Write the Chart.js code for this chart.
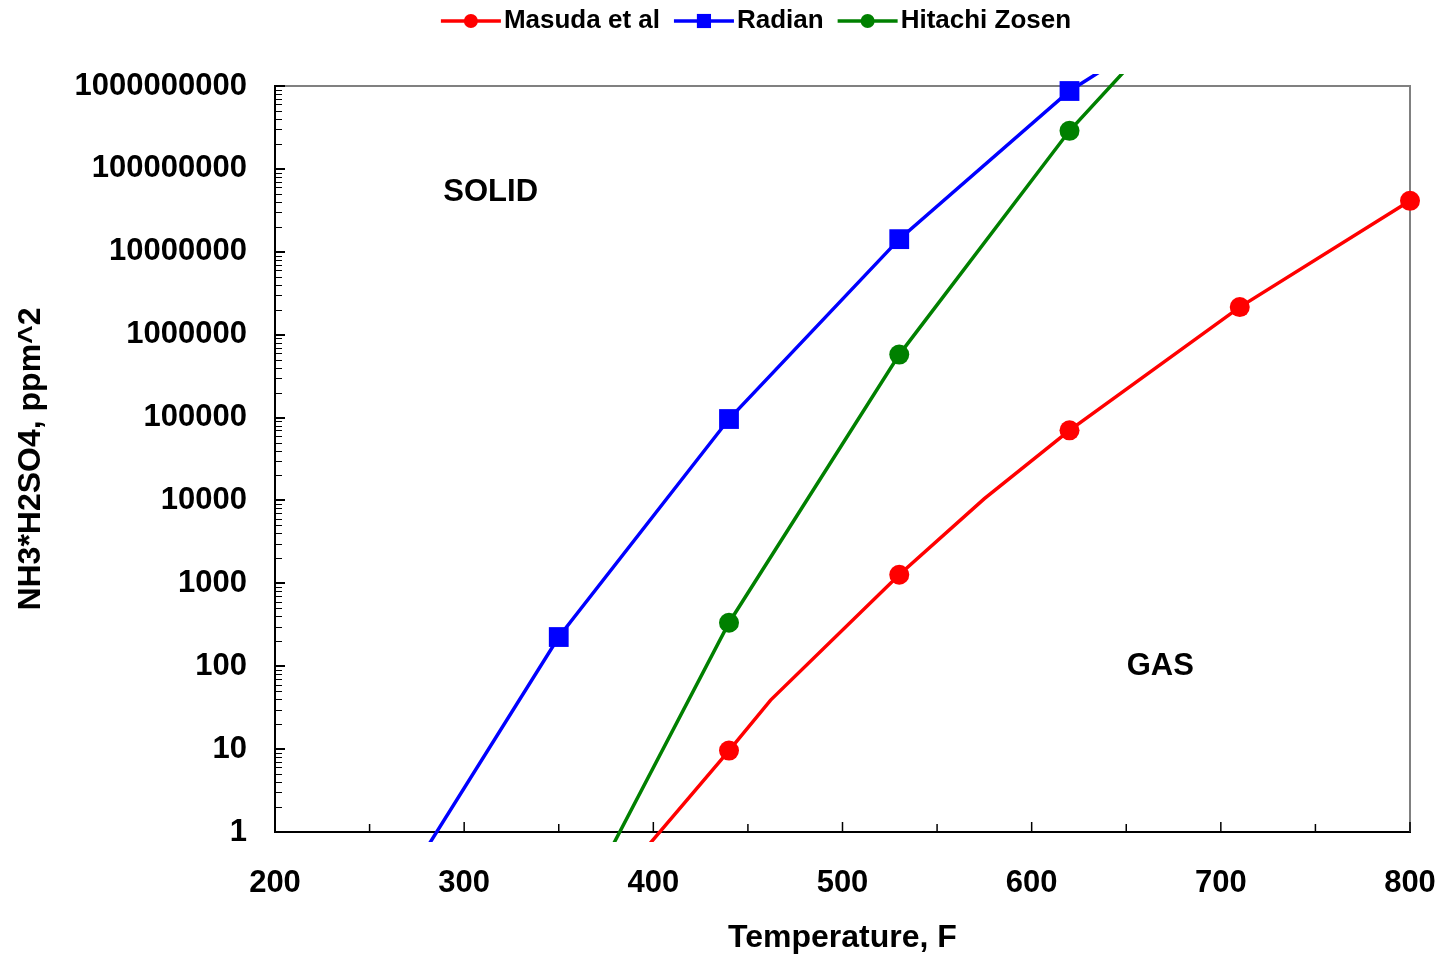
<!DOCTYPE html>
<html>
<head>
<meta charset="utf-8">
<script src="https://cdn.jsdelivr.net/npm/chart.js@4/dist/chart.umd.min.js"></script>
<style>
html,body{margin:0;padding:0;background:#fff;}
#wrap{width:1445px;height:956px;}
</style>
</head>
<body>
<div id="wrap"><canvas id="c" width="1445" height="956"></canvas></div>
<script>
// ---- data ----
const seriesNames = ['Masuda et al', 'Radian', 'Hitachi Zosen'];

const masudaTemp     = [350, 440, 462, 530, 575, 620, 710, 800];
const masudaValue    = [0.037, 9.6, 39, 1270, 10500, 70100, 2150000, 41200000];
const masudaMeasured = [false, true, false, true, false, true, true, true];

const radianTemp     = [260, 350, 440, 530, 620, 710];
const radianValue    = [0.118, 225, 96000, 14200000, 870000000, 17600000000];
const radianMeasured = [false, true, true, true, true, false];

const hitachiTemp     = [350, 440, 530, 620, 710];
const hitachiValue    = [0.039, 335, 575000, 288000000, 49000000000];
const hitachiMeasured = [false, true, true, true, false];

const xTickValues = [200, 300, 400, 500, 600, 700, 800];
const xTickLabels = ['200', '300', '400', '500', '600', '700', '800'];
const yTickValues = [1, 10, 100, 1000, 10000, 100000, 1000000, 10000000, 100000000, 1000000000];
const yTickLabels = ['1', '10', '100', '1000', '10000', '100000', '1000000', '10000000', '100000000', '1000000000'];

const xTitle = 'Temperature, F';
const yTitle = 'NH3*H2SO4, ppm^2';

const regionLabels     = ['SOLID', 'GAS'];
const regionLabelTemp  = [314, 668];
const regionLabelValue = [55500000, 106];

// ---- styling ----
const FONT = '"Liberation Sans", Arial, Helvetica, sans-serif';
const seriesStyle = [
  {color: '#FF0000', pointStyle: 'circle', radius: 10, legendRadius: 7},
  {color: '#0000FF', pointStyle: 'rect',   radius: 14, legendRadius: 10},
  {color: '#008000', pointStyle: 'circle', radius: 10, legendRadius: 7}
];
const CLIP = {left: 12, top: 12, right: 12, bottom: 10};

function toPoints(t, v) { return t.map((x, i) => ({x: x, y: v[i]})); }

function makeDataset(i, temps, values, measured) {
  const s = seriesStyle[i];
  const radii = measured.map(m => m ? s.radius : 0);
  return {
    label: seriesNames[i],
    data: toPoints(temps, values),
    showLine: true,
    borderColor: s.color,
    backgroundColor: s.color,
    borderWidth: 3.5,
    pointStyle: s.pointStyle,
    pointRadius: radii,
    pointHoverRadius: radii,
    pointBorderWidth: 0,
    pointBackgroundColor: s.color,
    tension: 0,
    clip: CLIP
  };
}

const decorPlugin = {
  id: 'decor',
  beforeDatasetsDraw(chart) {
    const {ctx, chartArea: a, scales} = chart;
    const xs = scales.x, ys = scales.y;
    ctx.save();
    ctx.strokeStyle = '#808080';
    ctx.lineWidth = 2;
    ctx.beginPath();
    ctx.moveTo(a.left, a.top);
    ctx.lineTo(a.right, a.top);
    ctx.lineTo(a.right, a.bottom);
    ctx.stroke();
    ctx.strokeStyle = '#000';
    yTickValues.forEach((v) => {
      const py = Math.round(ys.getPixelForValue(v));
      ctx.lineWidth = 2;
      ctx.beginPath(); ctx.moveTo(a.left, py); ctx.lineTo(a.left + 10, py); ctx.stroke();
      if (v < ys.max) {
        ctx.lineWidth = 1;
        for (let m = 2; m <= 9; m++) {
          const pm = Math.round(ys.getPixelForValue(v * m)) + 0.5;
          ctx.beginPath(); ctx.moveTo(a.left, pm); ctx.lineTo(a.left + 7, pm); ctx.stroke();
        }
      }
    });
    ctx.lineWidth = 1.5;
    xTickValues.forEach((v, i) => {
      const px = xs.getPixelForValue(v);
      ctx.beginPath(); ctx.moveTo(px, a.bottom); ctx.lineTo(px, a.bottom - 10); ctx.stroke();
      if (i < xTickValues.length - 1) {
        const pm = xs.getPixelForValue((v + xTickValues[i + 1]) / 2);
        ctx.beginPath(); ctx.moveTo(pm, a.bottom); ctx.lineTo(pm, a.bottom - 8); ctx.stroke();
      }
    });
    ctx.restore();
  },
  afterDraw(chart) {
    const {ctx, scales} = chart;
    ctx.save();
    ctx.fillStyle = '#000';
    ctx.font = 'bold 31px ' + FONT;
    ctx.textAlign = 'center';
    ctx.textBaseline = 'middle';
    regionLabels.forEach((t, i) => {
      ctx.fillText(t, scales.x.getPixelForValue(regionLabelTemp[i]), scales.y.getPixelForValue(regionLabelValue[i]) + 2);
    });
    ctx.font = 'bold 26px ' + FONT;
    ctx.textAlign = 'left';
    const lineLen = 60, textGap = 3, itemGap = 14, cy = 21;
    const widths = seriesNames.map(n => ctx.measureText(n).width);
    let total = itemGap * (seriesNames.length - 1);
    widths.forEach(w => { total += lineLen + textGap + w; });
    let x = 756 - total / 2;
    seriesNames.forEach((n, i) => {
      const s = seriesStyle[i];
      ctx.strokeStyle = s.color;
      ctx.fillStyle = s.color;
      ctx.lineWidth = 3.5;
      ctx.beginPath(); ctx.moveTo(x, cy); ctx.lineTo(x + lineLen, cy); ctx.stroke();
      const mx = x + lineLen / 2;
      if (s.pointStyle === 'rect') {
        const h = s.legendRadius * Math.SQRT1_2;
        ctx.fillRect(mx - h, cy - h, 2 * h, 2 * h);
      } else {
        ctx.beginPath(); ctx.arc(mx, cy, s.legendRadius, 0, Math.PI * 2); ctx.fill();
      }
      ctx.fillStyle = '#000';
      ctx.fillText(n, x + lineLen + textGap, cy);
      x += lineLen + textGap + widths[i] + itemGap;
    });
    ctx.restore();
  }
};

const tickFont = {family: FONT, size: 31, weight: 'bold'};
const titleFont = {family: FONT, size: 32, weight: 'bold', lineHeight: 1.1};

new Chart(document.getElementById('c'), {
  type: 'scatter',
  data: {
    datasets: [
      makeDataset(0, masudaTemp, masudaValue, masudaMeasured),
      makeDataset(1, radianTemp, radianValue, radianMeasured),
      makeDataset(2, hitachiTemp, hitachiValue, hitachiMeasured)
    ]
  },
  options: {
    responsive: false,
    animation: false,
    devicePixelRatio: 1,
    events: [],
    layout: {padding: {top: 86, right: 35, bottom: 0, left: 0}},
    plugins: {legend: {display: false}, tooltip: {enabled: false}},
    scales: {
      x: {
        type: 'linear', position: 'bottom', min: 200, max: 800,
        afterBuildTicks: (s) => { s.ticks = xTickValues.map(v => ({value: v})); },
        afterFit: (s) => { s.height = 124; s.paddingLeft = 0; s.paddingRight = 0; },
        ticks: {
          callback: (v, i) => xTickLabels[i],
          font: tickFont, color: '#000', padding: 33, maxRotation: 0, autoSkip: false
        },
        grid: {display: false, drawTicks: false},
        border: {display: true, color: '#000', width: 2},
        title: {display: true, text: xTitle, font: titleFont, color: '#000', padding: {top: 0, bottom: 0}}
      },
      y: {
        type: 'logarithmic', position: 'left', min: 1, max: 1000000000,
        afterBuildTicks: (s) => { s.ticks = yTickValues.map(v => ({value: v, major: true})); },
        afterFit: (s) => { s.width = 275; s.paddingTop = 0; s.paddingBottom = 0; },
        ticks: {
          callback: (v, i) => yTickLabels[i],
          font: tickFont, color: '#000', padding: 28, autoSkip: false
        },
        grid: {display: false, drawTicks: false},
        border: {display: true, color: '#000', width: 2},
        title: {display: true, text: yTitle, font: titleFont, color: '#000', padding: {top: 14, bottom: 0}}
      }
    }
  },
  plugins: [decorPlugin]
});
</script>
</body>
</html>
